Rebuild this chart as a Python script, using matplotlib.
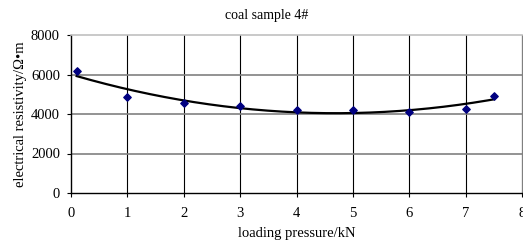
import numpy as np
import matplotlib
matplotlib.use("Agg")
import matplotlib.pyplot as plt

pressure = [0.1, 1, 2, 3, 4, 5, 6, 7, 7.5]
resistivity = [6200, 4880, 4560, 4390, 4220, 4220, 4100, 4270, 4900]
x_ticks = [0, 1, 2, 3, 4, 5, 6, 7, 8]
y_ticks = [0, 2000, 4000, 6000, 8000]

plt.rcParams['font.family'] = ['Liberation Serif', 'DejaVu Serif']
fig = plt.figure(figsize=(5.23, 2.48), dpi=100)
ax = fig.add_axes([71/523, 1-193/248, (522-71)/523, (193-35)/248])

coef = np.polyfit(pressure, resistivity, 2)
xs = np.linspace(pressure[0], pressure[-1], 200)
ax.plot(xs, np.polyval(coef, xs), color='black', lw=1.6, zorder=3)
ax.scatter(pressure, resistivity, marker='D', s=14, color='#000080', zorder=4)

ax.set_xlim(0, 8)
ax.set_ylim(0, 8000)
ax.set_xticks(x_ticks)
ax.set_yticks(y_ticks)
ax.tick_params(labelsize=10.5, length=3, width=0.8, colors='black', pad=7)
ax.tick_params(axis='y', pad=5)
for v in x_ticks[1:]:
    ax.axvline(v, color='black', lw=0.8, zorder=1)
for v in y_ticks[1:-1]:
    ax.axhline(v, color='#808080', lw=1.2, zorder=1)
ax.spines['top'].set_color('#c0c0c0')
ax.spines['top'].set_linewidth(1.2)
ax.spines['right'].set_color('#808080')
ax.spines['left'].set_linewidth(1.0)
ax.spines['bottom'].set_linewidth(1.0)

ax.set_xlabel('loading pressure/kN', fontsize=10.5, labelpad=5)
ax.set_ylabel('electrical resistivity/Ω•m', fontsize=10.5, labelpad=3)
fig.text(267/523, 1-16/248, 'coal sample 4#', ha='center', va='center', fontsize=10)

fig.savefig('out.png', dpi=100)
